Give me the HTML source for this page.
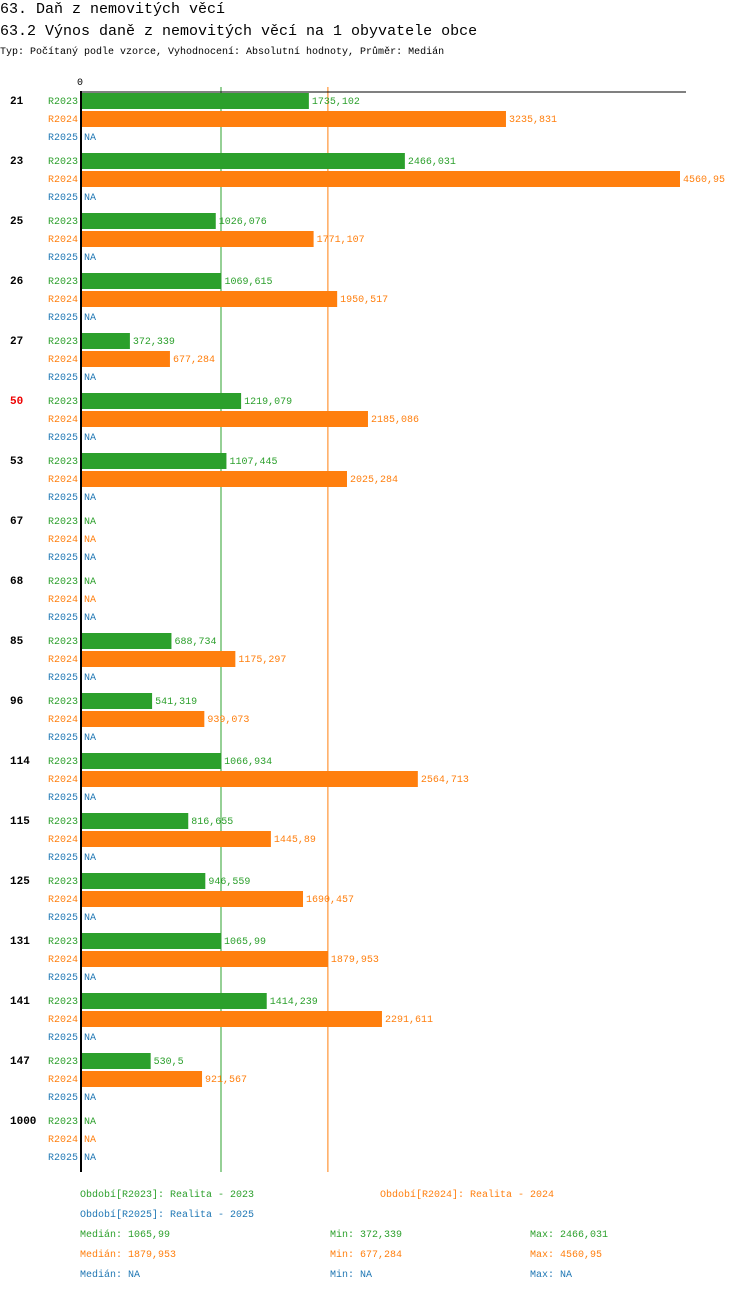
<!DOCTYPE html>
<html><head><meta charset="utf-8"><style>
body{margin:0;background:#fff;width:750px;height:1292px;overflow:hidden;font-family:"Liberation Mono","DejaVu Sans Mono",monospace}
svg text{font-family:"Liberation Mono","DejaVu Sans Mono",monospace}
</style></head><body>
<svg id="c" width="750" height="1292" xmlns="http://www.w3.org/2000/svg">
<text x="0" y="13" font-size="15" fill="#000">63. Daň z nemovitých věcí</text>
<text x="0" y="35" font-size="15" fill="#000">63.2 Výnos daně z nemovitých věcí na 1 obyvatele obce</text>
<text x="0" y="54" font-size="10" fill="#000">Typ: Počítaný podle vzorce, Vyhodnocení: Absolutní hodnoty, Průměr: Medián</text>
<text x="77" y="85" font-size="10" fill="#000">0</text>
<g id="marks"></g>
</svg>
<script>
const categories=["21","23","25","26","27","50","53","67","68","85","96","114","115","125","131","141","147","1000"];
const r2023=[1735.102,2466.031,1026.076,1069.615,372.339,1219.079,1107.445,null,null,688.734,541.319,1066.934,816.655,946.559,1065.99,1414.239,530.5,null];
const r2024=[3235.831,4560.95,1771.107,1950.517,677.284,2185.086,2025.284,null,null,1175.297,939.073,2564.713,1445.89,1690.457,1879.953,2291.611,921.567,null];
const r2025=[null,null,null,null,null,null,null,null,null,null,null,null,null,null,null,null,null,null];
const highlight="50";
const medians=[1065.99,1879.953];
const NS="http://www.w3.org/2000/svg";
const g=document.getElementById('marks');
const x0=81,xMax=4560.95,w=599;
const xs=v=>x0+v/xMax*w;
const fmt=v=>String(v).replace('.',',');
function mk(t,a){const e=document.createElementNS(NS,t);for(const k in a)e.setAttribute(k,a[k]);g.appendChild(e);return e;}
const series=[{n:"R2023",d:r2023,c:"#2ca02c"},{n:"R2024",d:r2024,c:"#ff7f0e"},{n:"R2025",d:r2025,c:"#1f77b4"}];
const bottom=92+categories.length*60;
medians.forEach((m,i)=>{const l=mk('line',{x1:xs(m),x2:xs(m),y1:87,y2:bottom,stroke:series[i].c,'stroke-width':1});

});
categories.forEach((c,i)=>{
 const top=92+i*60;
 const t=mk('text',{x:10,y:top+12,'font-size':11,'font-weight':'bold',fill:c===highlight?'#e00':'#000'});t.textContent=c;
 
 
 series.forEach((s,j)=>{
  const y=top+1+j*18;
  const lb=mk('text',{x:78,y:y+11,'font-size':10,fill:s.c,'text-anchor':'end'});lb.textContent=s.n;
  
  
  const v=s.d[i];let tx=84;
  if(v!=null){const r=mk('rect',{x:x0,y:y,width:xs(v)-x0,height:16,fill:s.c});
   
   
   tx=xs(v)+3;}
  const vt=mk('text',{x:tx,y:y+11,'font-size':10,fill:s.c});vt.textContent=v==null?'NA':fmt(v);
  
  
 });
});
const ax=mk('line',{x1:81,x2:81,y1:91,y2:bottom,stroke:'#000','stroke-width':2});


const ax2=mk('rect',{x:80,y:91.5,width:606,height:1,fill:'#000'});


const leg=[[80,1197,"Období[R2023]: Realita - 2023",0],[380,1197,"Období[R2024]: Realita - 2024",1],[80,1217,"Období[R2025]: Realita - 2025",2]];
function vals(d){const v=d.filter(x=>x!=null);if(!v.length)return["NA","NA","NA"];const s=[...v].sort((a,b)=>a-b);const n=s.length;const med=n%2?s[(n-1)/2]:(s[n/2-1]+s[n/2])/2;return[fmt(+med.toFixed(3)),fmt(s[0]),fmt(s[n-1])];}
series.forEach((s,j)=>{const v=vals(s.d);const y=1237+j*20;
 leg.push([80,y,"Medián: "+v[0],j]);leg.push([330,y,"Min: "+v[1],j]);leg.push([530,y,"Max: "+v[2],j]);});
leg.forEach(l=>{const t=mk('text',{x:l[0],y:l[1],'font-size':10,fill:series[l[3]].c});t.textContent=l[2];
 
 });
</script>
</body></html>
